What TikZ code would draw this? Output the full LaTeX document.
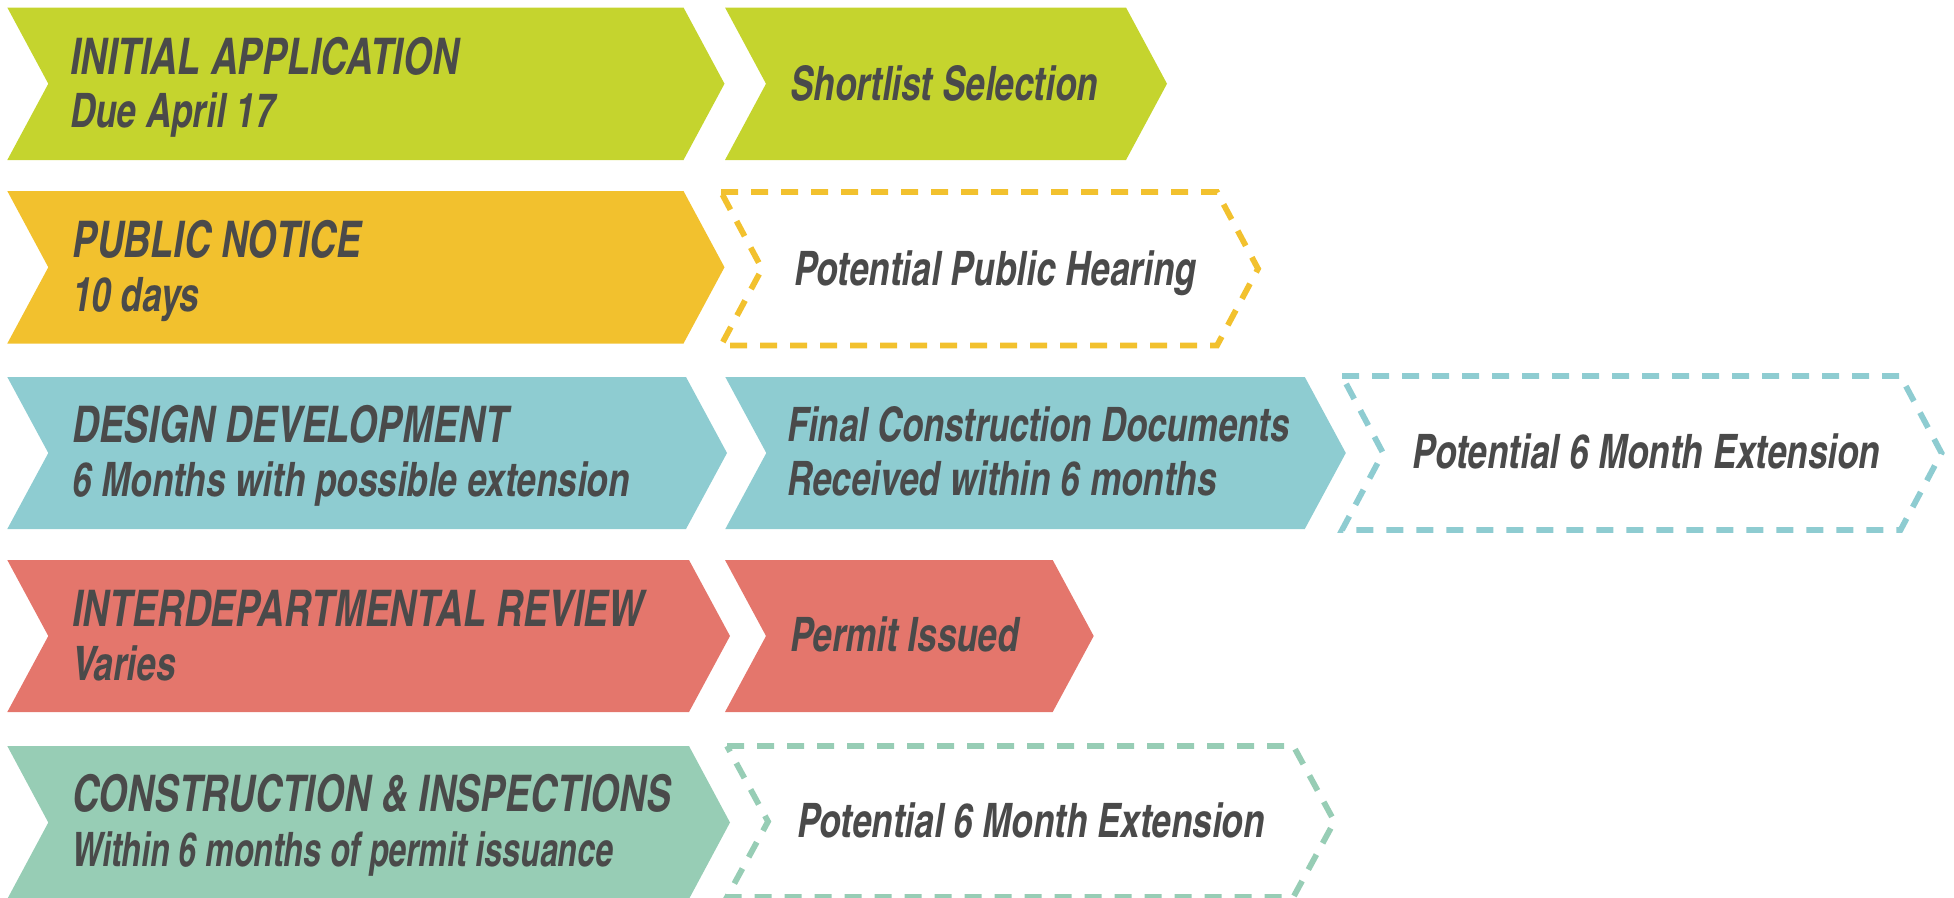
\documentclass[tikz,border=0pt]{standalone}
\usepackage{fontspec}
\usepackage{graphicx}
\newfontfamily\cnfont{texgyreheroscn-bolditalic}[Extension=.otf, FakeStretch=0.9]
\definecolor{cgreen}{HTML}{C5D42E}
\definecolor{cyellow}{HTML}{F2C12E}
\definecolor{cteal}{HTML}{8ECCD1}
\definecolor{csalmon}{HTML}{E4766C}
\definecolor{cmint}{HTML}{97CDB5}
\definecolor{txtgray}{HTML}{4A4A4A}
\newcommand\mychev[5]{\path[#1] (#2,#4) -- (#3,#4) -- ({#3+41},{(#4+#5)/2}) -- (#3,#5) -- (#2,#5) -- ({#2+41},{(#4+#5)/2}) -- cycle;}
\tikzset{
  txt/.style={anchor=base west, inner sep=0pt, text=txtgray, font=\cnfont\fontsize{47.5}{53}\selectfont},
  ttl/.style={txt, font=\cnfont\fontsize{50.5}{56}\selectfont},
  solidchev/.style={fill=#1},
  dashchev/.style={draw=#1, line width=5.8pt, dash pattern=on 17pt off 13pt, fill=white},
}
\begin{document}
\begin{tikzpicture}[x=1pt,y=-1pt]
\path[use as bounding box] (0,0) rectangle (1954,897);
\clip (0,0) rectangle (1954,897);
% Row 1
\mychev{solidchev=cgreen}{7.3}{683.5}{7.5}{160}
\mychev{solidchev=cgreen}{725}{1126}{7.5}{160}
\node[ttl] (r1t) at (70,74) {INITIAL APPLICATION};
\node[txt] (r1s) at (70,127.7) {Due April 17};
\node[txt] (r1b) at (790,100) {Shortlist Selection};
% Row 2
\mychev{solidchev=cyellow}{7.3}{683.5}{191}{343.5}
\mychev{dashchev=cyellow}{721}{1217}{192}{345.5}
\node[ttl] (r2t) at (72,257.7) {PUBLIC NOTICE};
\node[txt] (r2s) at (72,311.7) {10 days};
\node[txt] (r2b) at (794,285) {Potential Public Hearing};
% Row 3
\mychev{solidchev=cteal}{7.3}{686}{377}{529}
\mychev{solidchev=cteal}{725.3}{1304.8}{377}{529}
\mychev{dashchev=cteal}{1342}{1900.5}{376}{530}
\node[ttl] (r3t) at (72,442.7) {DESIGN DEVELOPMENT};
\node[txt] (r3s) at (72,496.7) {6 Months with possible extension};
\node[txt] (r3b1) at (787,441.7) {\scalebox{0.985}[1]{Final Construction Documents}};
\node[txt] (r3b2) at (787,495) {Received within 6 months};
\node[txt] (r3c) at (1412.6,468) {Potential 6 Month Extension};
% Row 4
\mychev{solidchev=csalmon}{7.3}{689}{560}{712}
\mychev{solidchev=csalmon}{725}{1052.7}{560}{712}
\node[ttl] (r4t) at (72,626) {INTERDEPARTMENTAL REVIEW};
\node[txt] (r4s) at (72,680) {Varies};
\node[txt] (r4b) at (790,651.7) {Permit Issued};
% Row 5
\mychev{solidchev=cmint}{7.3}{689}{746}{899}
\mychev{dashchev=cmint}{727}{1293.4}{746}{897}
\node[ttl] (r5t) at (72,811.7) {CONSTRUCTION \& INSPECTIONS};
\node[txt] (r5s) at (72,866) {\scalebox{0.915}[1]{Within 6 months of permit issuance}};
\node[txt] (r5b) at (797,837.3) {Potential 6 Month Extension};
\end{tikzpicture}
\end{document}
